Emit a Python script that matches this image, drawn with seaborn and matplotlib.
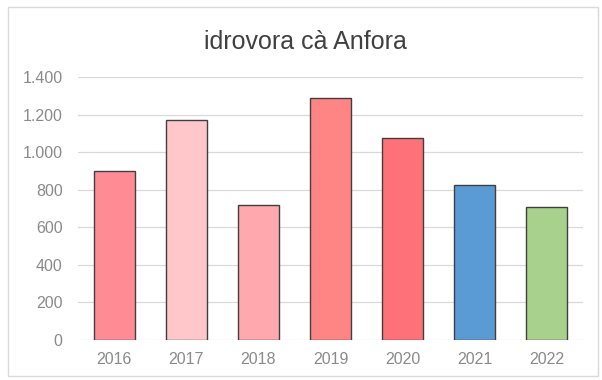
import matplotlib
matplotlib.use("Agg")
import matplotlib.pyplot as plt
from matplotlib.patches import Rectangle
import seaborn as sns
import pandas as pd

years = ["2016", "2017", "2018", "2019", "2020", "2021", "2022"]
values = [900, 1170, 720, 1290, 1075, 825, 710]
bar_colors = ["#FF8C94", "#FFC7CA", "#FFA8AE", "#FF8484", "#FF7179", "#5B9BD5", "#A9D18E"]
y_ticks = [0, 200, 400, 600, 800, 1000, 1200, 1400]
y_tick_labels = ["0", "200", "400", "600", "800", "1.000", "1.200", "1.400"]
title = "idrovora cà Anfora"

sns.set_theme(style="white")
plt.rcParams["font.family"] = ["Liberation Sans", "DejaVu Sans"]

df = pd.DataFrame({"anno": years, "valore": values})

fig = plt.figure(figsize=(6.02, 3.8), dpi=100)
fig.patch.set_facecolor("white")
# light outer frame of the chart area
fig.patches.append(Rectangle((8 / 602, 4 / 380), 590 / 602, 369 / 380,
                             transform=fig.transFigure, fill=False,
                             edgecolor="#DADADA", linewidth=1.0))

ax = fig.add_axes([78 / 602, 40 / 380, 505 / 602, 263 / 380])
sns.barplot(data=df, x="anno", y="valore", hue="anno", palette=bar_colors,
            legend=False, width=0.57, edgecolor="#3F3F3F", linewidth=1.0,
            saturation=1, ax=ax)

ax.set_ylim(0, 1400)
ax.set_xlim(-0.5, 6.5)
ax.set_yticks(y_ticks)
ax.set_yticklabels(y_tick_labels)
ax.grid(axis="y", color="#D9D9D9", linewidth=0.9)
ax.set_axisbelow(True)
for s in ax.spines.values():
    s.set_visible(False)
ax.set_xlabel("")
ax.set_ylabel("")
ax.tick_params(axis="y", length=0, pad=11, labelsize=11.5, labelcolor="#8A8A8A")
ax.tick_params(axis="x", length=0, pad=9, labelsize=11.5, labelcolor="#8A8A8A")

fig.text(305 / 602, 1 - 42 / 380, title, ha="center", va="center",
         fontsize=18, color="#404040")

fig.savefig("out.png", dpi=100, facecolor="white")
